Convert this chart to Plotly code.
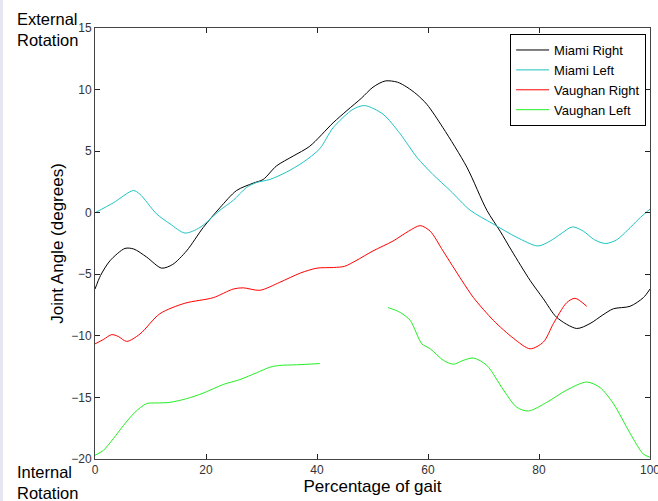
import plotly.graph_objects as go

# ---- data ----
miami_right_x = [0, 1, 2.7, 5.4, 7, 9.3, 12, 14, 16.5, 19.5, 22.5, 25.5, 28.5, 30.3, 32.7, 35.7, 38.7,
                 42.9, 45.4, 48, 50.1, 52.3, 54.5, 56.2, 58, 59.8, 62.7, 67, 70.6, 73, 75.1, 78.4,
                 80.8, 83.2, 86.8, 89.2, 91.5, 93.4, 96.4, 98.8, 100]
miami_right_y = [-6.2, -5.1, -3.9, -2.9, -2.95, -3.6, -4.5, -4.2, -3.1, -1.2, 0.4, 1.8, 2.4, 2.7, 3.8,
                 4.6, 5.4, 7.3, 8.3, 9.3, 10.2, 10.7, 10.6, 10.2, 9.6, 8.8, 6.9, 3.7, 0.2, -1.5, -3.1,
                 -5.5, -7.0, -8.5, -9.4, -9.0, -8.3, -7.8, -7.6, -6.9, -6.2]

miami_left_x = [0, 3.3, 6.9, 8.1, 11.1, 13.5, 16.2, 18.9, 22.5, 24.9, 27.3, 29.1, 31.5, 34.5, 37.5,
                40.5, 42.9, 46.5, 48.6, 51.9, 55, 58, 60.9, 64, 67.6, 71.7, 76, 79.8, 82, 84, 86,
                88, 90, 92, 94, 96, 98, 100]
miami_left_y = [0, 0.8, 1.8, 1.5, -0.1, -0.9, -1.65, -1.2, 0.2, 1.0, 2.05, 2.45, 2.7, 3.3, 4.1,
                5.2, 6.9, 8.4, 8.7, 8.0, 6.4, 4.5, 3.1, 1.8, 0.2, -0.9, -2.0, -2.7, -2.3, -1.7,
                -1.15, -1.5, -2.2, -2.5, -2.2, -1.4, -0.5, 0.3]

vaughan_right_x = [0, 1.5, 3, 4.2, 5.7, 8.1, 11.7, 16.2, 21.3, 24.9, 26.7, 29.7, 33.3, 37, 40, 43,
                   45, 47, 50.1, 53.7, 56.5, 58.6, 60.4, 62.7, 66.1, 68.2, 71.8, 75.4, 78.4, 80.8,
                   82.6, 85, 86.5, 88.6]
vaughan_right_y = [-10.65, -10.3, -9.9, -10.05, -10.45, -9.85, -8.2, -7.35, -6.9, -6.2, -6.1, -6.3,
                   -5.65, -4.9, -4.5, -4.45, -4.35, -3.9, -3.1, -2.3, -1.5, -1.05, -1.5, -3.1, -5.5,
                   -6.9, -8.75, -10.2, -11.05, -10.5, -9.0, -7.3, -6.95, -7.6]

vaughan_left_x = [0, 1.5, 3.3, 5.1, 7.2, 9.3, 11.1, 13.5, 16.5, 19.5, 23.1, 26.1, 29.1, 31.5, 33.3,
                  36.3, 40.5, None,
                  52.8, 55, 56.8, 58.9, 60.4, 62.8, 64.6, 66.3, 68.2, 70.6, 73.6, 76, 78.1, 81.4,
                  85, 88.6, 91, 93.4, 96.4, 98.8, 100]
vaughan_left_y = [-19.7, -19.3, -18.35, -17.3, -16.2, -15.5, -15.45, -15.4, -15.1, -14.65, -13.95,
                  -13.55, -13.0, -12.55, -12.4, -12.35, -12.25, None,
                  -7.7, -8.1, -8.75, -10.65, -11.05, -12.0, -12.3, -12.0, -11.8, -12.4, -14.4,
                  -15.8, -16.1, -15.4, -14.4, -13.75, -14.2, -15.5, -17.9, -19.6, -19.85]

series = [
    ("Miami Right", miami_right_x, miami_right_y, "#000000"),
    ("Miami Left", miami_left_x, miami_left_y, "#1EC3C3"),
    ("Vaughan Right", vaughan_right_x, vaughan_right_y, "#FF0000"),
    ("Vaughan Left", vaughan_left_x, vaughan_left_y, "#22EE22"),
]

x_ticks = [0, 20, 40, 60, 80, 100]
y_ticks = [-20, -15, -10, -5, 0, 5, 10, 15]

FONT = "Liberation Sans, Arial"

fig = go.Figure()
for name, xs, ys, col in series:
    fig.add_trace(go.Scatter(x=xs, y=ys, mode="lines", name=name,
                             line=dict(color=col, width=1, shape="spline", smoothing=0.8),
                             connectgaps=False))

axis_common = dict(showgrid=False, zeroline=False, showline=True, linecolor="#444444",
                   linewidth=1, mirror="ticks", ticks="inside", ticklen=5, tickcolor="#222222",
                   ticklabeloverflow="allow", automargin=False,
                   tickfont=dict(family=FONT, size=12, color="#333333"))

fig.update_xaxes(range=[0, 100], tickvals=x_ticks, **axis_common,
                 title=dict(text="Percentage of gait", standoff=1,
                            font=dict(family=FONT, size=17, color="#000000")))
fig.update_yaxes(range=[-20, 15], tickvals=y_ticks, **axis_common,
                 title=dict(text="Joint Angle (degrees)", standoff=3,
                            font=dict(family=FONT, size=17, color="#000000")))

fig.update_layout(
    width=658, height=501,
    margin=dict(l=95, r=8, t=28, b=42),
    paper_bgcolor="white", plot_bgcolor="white",
    showlegend=True,
    legend=dict(x=0.993, y=0.986, xanchor="right", yanchor="top",
                bgcolor="white", bordercolor="#000000", borderwidth=1,
                font=dict(family=FONT, size=13, color="#000000"),
                tracegroupgap=0, itemwidth=33),
    annotations=[
        dict(text="External<br>Rotation", xref="paper", yref="paper",
             x=(15 - 95) / 555, y=(459 - 8) / 431, xanchor="left", yanchor="top",
             showarrow=False, align="left",
             font=dict(family=FONT, size=16.5, color="#000000")),
        dict(text="Internal<br>Rotation", xref="paper", yref="paper",
             x=(15 - 95) / 555, y=(459 - 461) / 431, xanchor="left", yanchor="top",
             showarrow=False, align="left",
             font=dict(family=FONT, size=16.5, color="#000000")),
    ],
    shapes=[
        dict(type="rect", xref="paper", yref="paper",
             x0=(0 - 95) / 555, x1=(3 - 95) / 555, y0=(459 - 501) / 431, y1=(459 - 0) / 431,
             fillcolor="#E6E6F2", line=dict(width=0), layer="below"),
    ],
)

fig.write_html("out.html")
